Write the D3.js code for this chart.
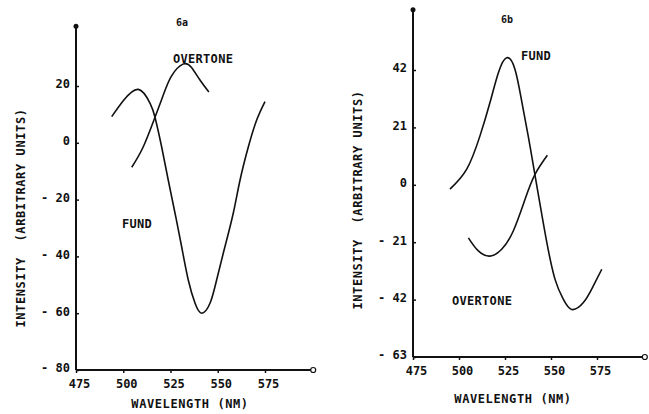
<!DOCTYPE html>
<html><head><meta charset="utf-8">
<script src="https://cdn.jsdelivr.net/npm/d3@7"></script>
<style>
html,body{margin:0;padding:0;background:#fff;}
text{font-family:"DejaVu Sans Mono",monospace;font-weight:bold;fill:#111;}
</style></head>
<body><svg id="c" width="649" height="414"></svg>
<script>
// ---- Panel 6a data ----
const fundA_wl  = [493.9,500,508.0,514.2,516.8,520.3,523.8,527.4,530.9,534.4,538.0,541.5,545.9,549.4,553.8,558.2,561.8,566.2,570.6,575];
const fundA_val = [9.2,14.8,18.8,13.9,9.0,-1.4,-13.1,-24.8,-36.6,-48.3,-56.5,-60.0,-56.5,-48.3,-36.6,-24.8,-13.1,-1.4,8.0,14.5];
const overA_wl  = [504.5,510.6,516.8,521,525.5,531.6,536,540.6,545.3];
const overA_val = [-8.6,-1.4,9.0,16.5,23.5,27.7,26.6,22.1,17.9];
const xTicksA = [475,500,525,550,575];
const yTicksA = [20,0,-20,-40,-60,-80];

// ---- Panel 6b data ----
const fundB_wl  = [495.1,504.2,511.4,516.8,521.4,525.9,530.4,534.1,537.7,541.3,544,547.7,552.2,556.7,561.2,567.6,573,577.6];
const fundB_val = [-1.6,5.7,17.9,30.0,41.0,46.5,42.3,30.5,17.5,3.5,-7.0,-21.0,-34.6,-41.9,-45.6,-43.1,-37.0,-30.9];
const overB_wl  = [505.1,510.5,516.8,523.2,529.5,535.9,541.3,548];
const overB_val = [-19.4,-24.2,-26.1,-23.6,-16.9,-5.3,3.8,10.8];
const xTicksB = [475,500,525,550,575];
const yTicksB = [42,21,0,-21,-42,-63];

const svg = d3.select("#c");
const fmt = d => d < 0 ? "- " + (-d) : String(d);

function panel(o){
  const g = svg.append("g");
  const x = d3.scaleLinear().domain([475,575]).range(o.xr);
  const y = d3.scaleLinear().domain(o.yd).range(o.yr);
  const x0 = x(475), y0 = y(o.yd[1]);
  g.append("line").attr("x1",x0).attr("x2",x0).attr("y1",y0).attr("y2",y(o.yTop))
    .attr("stroke","#111").attr("stroke-width",2);
  g.append("line").attr("x1",x0).attr("x2",x(o.xEnd)).attr("y1",y0).attr("y2",y0)
    .attr("stroke","#111").attr("stroke-width",2);
  g.append("circle").attr("cx",x0).attr("cy",y(o.yTop)).attr("r",2.5).attr("fill","#111");
  g.append("circle").attr("cx",x(o.xEnd)).attr("cy",y0).attr("r",2.5).attr("fill","#fff").attr("stroke","#111").attr("stroke-width",1.2);
  const ya = d3.axisLeft(y).tickValues(o.yTicks).tickSize(-3).tickPadding(6).tickFormat(fmt);
  const yg = g.append("g").attr("transform",`translate(${x0},0)`).call(ya);
  yg.select(".domain").remove();
  yg.selectAll("line").attr("stroke","#111").attr("stroke-width",1.5);
  yg.selectAll("text").attr("font-size",12).attr("font-family","DejaVu Sans Mono").attr("font-weight","bold").attr("fill","#111").attr("dy","0.15em");
  const xa = d3.axisBottom(x).tickValues(o.xTicks).tickSize(3).tickPadding(6).tickFormat(d=>d);
  const xg = g.append("g").attr("transform",`translate(0,${y0})`).call(xa);
  xg.select(".domain").remove();
  xg.selectAll("line").attr("stroke","#111").attr("stroke-width",1.5);
  xg.selectAll("text").attr("font-size",12).attr("font-family","DejaVu Sans Mono").attr("font-weight","bold").attr("fill","#111").attr("dx","3");
  g.append("text").attr("x",o.titleX).attr("y",o.titleY).attr("text-anchor","middle").attr("font-size",10).text(o.title);
  g.append("text").attr("x",o.xlabX).attr("y",o.xlabY).attr("text-anchor","middle").attr("font-size",12).attr("letter-spacing",0.6).text("WAVELENGTH (NM)");
  g.append("text").attr("transform",`translate(${o.ylabX},${o.ylabY}) rotate(-90)`).attr("text-anchor","middle")
    .attr("font-size",12).attr("letter-spacing",0.6).style("white-space","pre").text("INTENSITY  (ARBITRARY UNITS)");
  const line = d3.line().x(d=>x(d[0])).y(d=>y(d[1])).curve(d3.curveNatural);
  o.series.forEach(s=>{
    const pts = s.wl.map((w,i)=>[w,s.val[i]]);
    g.append("path").attr("d",line(pts)).attr("fill","none").attr("stroke","#111").attr("stroke-width",1.6).attr("stroke-linejoin","round");
    g.append("text").attr("x",s.lx).attr("y",s.ly).attr("font-size",12).attr("letter-spacing",0.3).text(s.name);
  });
}

panel({xr:[76,265], yd:[20,-80], yr:[86,370], yTop:41, xEnd:600.5,
  yTicks:yTicksA, xTicks:xTicksA, title:"6a", titleX:182, titleY:26,
  xlabX:190, xlabY:408, ylabX:25, ylabY:218,
  series:[{name:"FUND", wl:fundA_wl, val:fundA_val, lx:122, ly:228},
          {name:"OVERTONE", wl:overA_wl, val:overA_val, lx:173, ly:63}]});

panel({xr:[413,597], yd:[42,-63], yr:[70,357], yTop:64, xEnd:601,
  yTicks:yTicksB, xTicks:xTicksB, title:"6b", titleX:507, titleY:23,
  xlabX:513, xlabY:403, ylabX:362, ylabY:200,
  series:[{name:"FUND", wl:fundB_wl, val:fundB_val, lx:521, ly:60},
          {name:"OVERTONE", wl:overB_wl, val:overB_val, lx:452, ly:305}]});
</script></body></html>
